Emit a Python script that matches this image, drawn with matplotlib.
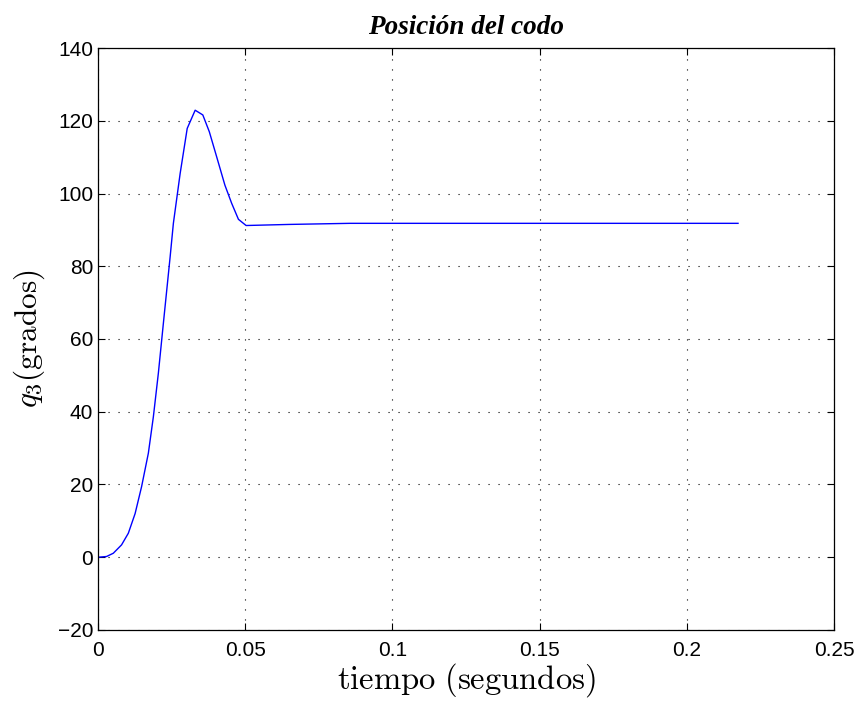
import numpy as np
import matplotlib.pyplot as plt

# valores
t = [0.0, 0.0029, 0.0052, 0.008, 0.0103, 0.0126, 0.0148, 0.0171, 0.0188, 0.0205,
     0.0222, 0.0245, 0.0256, 0.0279, 0.0303, 0.033, 0.0356, 0.0378, 0.0403,
     0.0431, 0.0454, 0.0477, 0.0503, 0.065, 0.0856, 0.2174]
q3 = [0.0, 0.2, 1.1, 3.4, 6.6, 12.0, 19.4, 28.6, 38.6, 50.6,
      64.3, 82.6, 91.8, 105.5, 117.9, 122.9, 121.6, 117.0, 110.1,
      102.3, 97.3, 92.9, 91.2, 91.5, 91.8, 91.8]

xticks = [0, 0.05, 0.1, 0.15, 0.2, 0.25]
xticklabels = ['0', '0.05', '0.1', '0.15', '0.2', '0.25']
yticks = [-20, 0, 20, 40, 60, 80, 100, 120, 140]

plt.rcParams['mathtext.fontset'] = 'cm'
plt.rcParams['font.family'] = 'Liberation Sans'

fig = plt.figure(figsize=(8.59, 7.02), dpi=100)
ax = fig.add_axes([0.1141, 0.1026, 0.8568, 0.829])

ax.plot(t, q3, color='#0000ff', lw=1.0)

ax.set_xlim(0, 0.25)
ax.set_ylim(-20, 140)
ax.set_xticks(xticks)
ax.set_xticklabels(xticklabels)
ax.set_yticks(yticks)
ax.tick_params(direction='in', top=True, right=True, labelsize=15, length=5, width=0.8)
ax.tick_params(axis='x', pad=8)
ax.grid(True, color='black', linestyle=(0, (1, 8)), lw=0.8)
for s in ax.spines.values():
    s.set_linewidth(0.9)

ax.set_title('Posición del codo', fontfamily='Liberation Serif', fontweight='bold',
             fontstyle='italic', fontsize=19.5, pad=10)
ax.set_xlabel(r'$\mathrm{tiempo\ (segundos)}$', fontsize=23.5, labelpad=1)
ax.set_ylabel(r'$q_3(\mathrm{grados})$', fontsize=22.5, labelpad=8)

fig.savefig('out.png', dpi=100)
